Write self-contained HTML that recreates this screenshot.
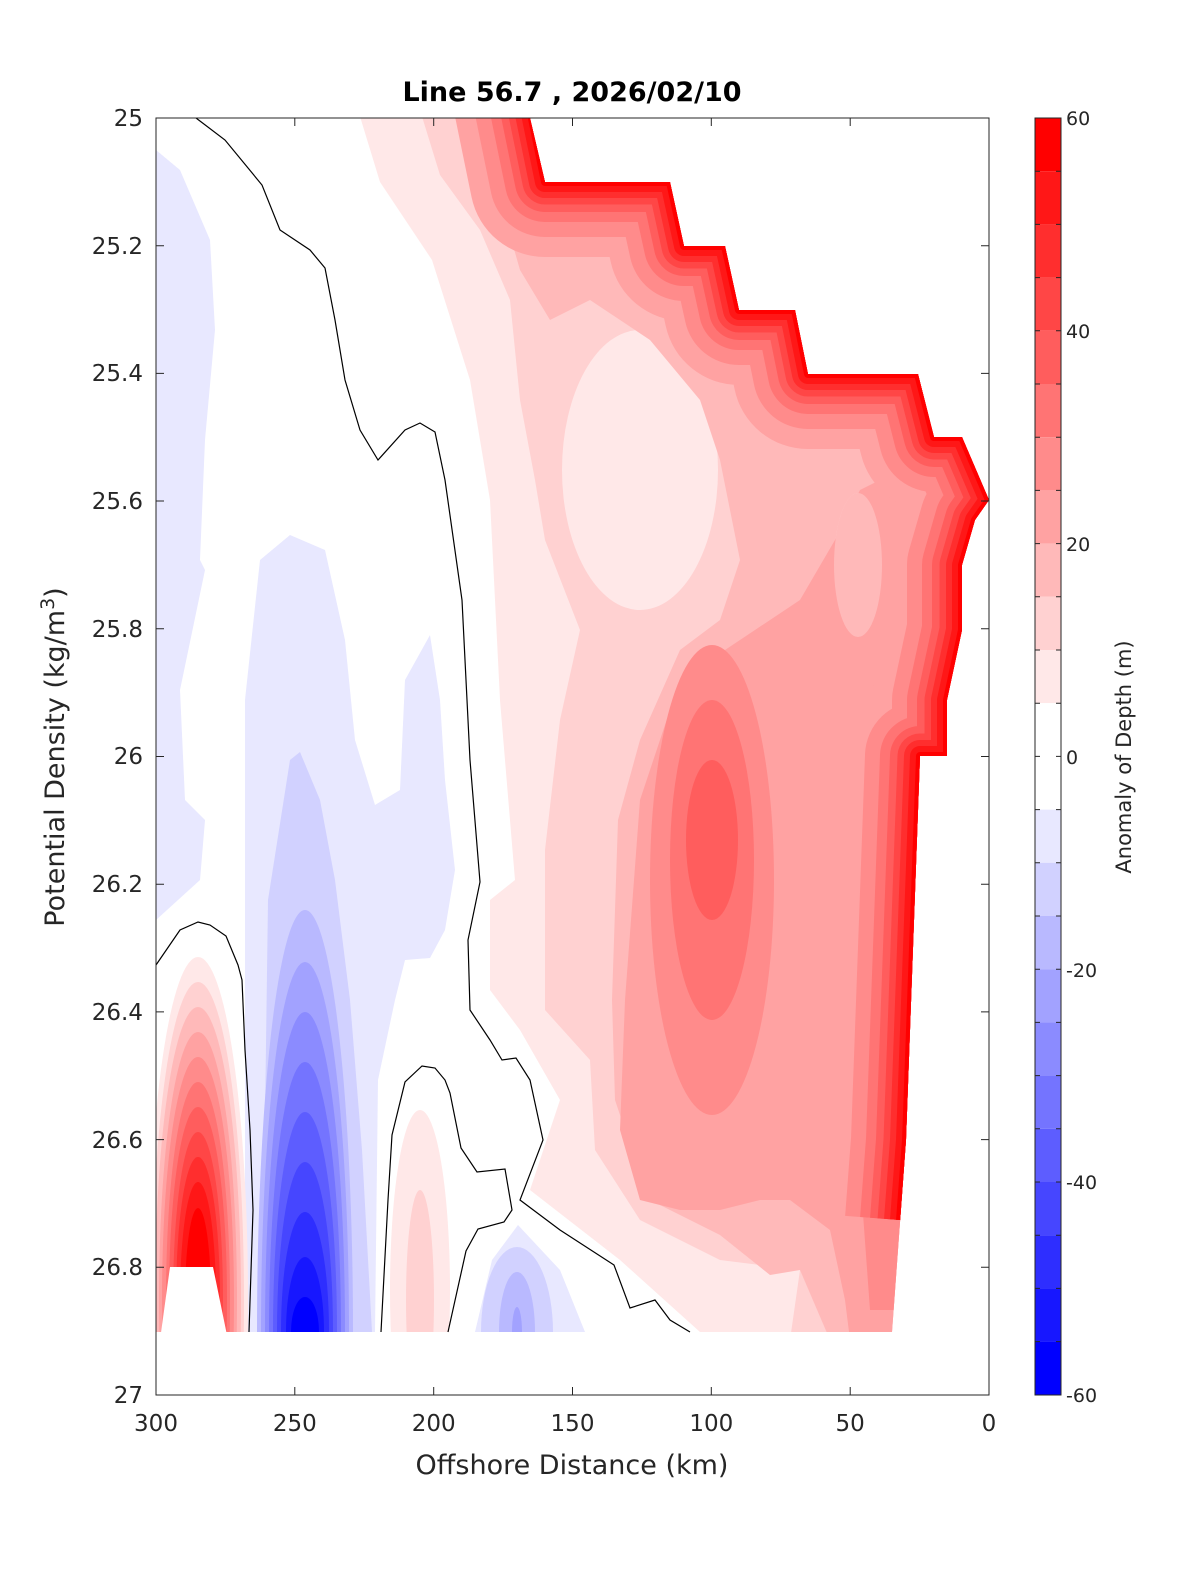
<!DOCTYPE html>
<html><head><meta charset="utf-8"><style>
html,body{margin:0;padding:0;background:#fff;overflow:hidden;width:1200px;height:1575px;}
svg{display:block;position:absolute;left:0;top:0;}
svg text{font-family:"DejaVu Sans","Liberation Sans",sans-serif;}
</style></head><body>
<svg width="1200" height="1575" viewBox="0 0 1200 1575" xmlns="http://www.w3.org/2000/svg">
<defs>
<clipPath id="data"><path d="M156,118 L530,118 L545,182 L670,182 L684,246 L725,246 L739,310 L795,310 L808,374 L918,374 L934,437 L962,437 L989,500 L975,520 L962,565 L962,630 L947,700 L947,756 L920,756 L906,1140 L892,1332 L156,1332 Z"/></clipPath>
<path id="S" d="M520,60 L545,182 L670,182 L684,246 L725,246 L739,310 L795,310 L808,374 L918,374 L934,437 L962,437 L989,500 L975,520 L962,565 L962,630 L947,700 L947,756 L920,756 L906,1140 L900,1220"/>
</defs>
<rect width="1200" height="1575" fill="#fff"/>
<g clip-path="url(#data)">
<path fill="#ffe8e8" d="M358,110 L380,182 L432,260 L470,380 L490,500 L500,700 L515,880 L490,900 L490,990 L520,1030 L560,1100 L530,1190 L620,1260 L700,1332 L1000,1340 L1000,110 Z"/>
<path fill="#ffd1d1" d="M420,110 L440,175 L480,230 L510,300 L520,400 L535,480 L545,540 L580,630 L560,720 L545,850 L545,1010 L590,1060 L595,1150 L640,1220 L720,1260 L800,1270 L790,1340 L1000,1340 L1000,110 Z"/>
<ellipse cx="640" cy="470" rx="78" ry="140" fill="#ffe8e8"/>
<path fill="#ffb9b9" d="M490,110 L500,200 L520,270 L550,320 L590,300 L650,340 L700,400 L720,460 L740,560 L720,620 L680,650 L640,740 L618,820 L612,1000 L615,1100 L640,1175 L660,1205 L720,1235 L770,1275 L800,1270 L830,1340 L1000,1340 L1000,110 Z"/>
<ellipse cx="858" cy="565" rx="24" ry="72" fill="#ffd1d1"/>
<path fill="#ffa2a2" d="M640,1200 L620,1130 L625,1000 L640,800 L680,680 L740,640 L800,600 L835,540 L860,490 L900,470 L1000,470 L1000,1340 L850,1340 L845,1300 L830,1230 L790,1200 L760,1200 L720,1210 L680,1210 Z"/>
<ellipse cx="858" cy="565" rx="24" ry="72" fill="#ffb9b9"/>
<ellipse cx="712" cy="880" rx="62" ry="235" fill="#ff8b8b"/>
<ellipse cx="712" cy="860" rx="42" ry="160" fill="#ff7474"/>
<ellipse cx="712" cy="840" rx="26" ry="80" fill="#ff5d5d"/>
<path fill="#ff8b8b" d="M860,1140 L906,1140 L895,1310 L870,1310 L862,1200 Z"/>
<g fill="none" stroke-linejoin="round">
<use href="#S" stroke="#ffa2a2" stroke-width="150"/>
<use href="#S" stroke="#ff8b8b" stroke-width="110"/>
<use href="#S" stroke="#ff7474" stroke-width="80"/>
<use href="#S" stroke="#ff5d5d" stroke-width="60"/>
<use href="#S" stroke="#ff4646" stroke-width="45"/>
<use href="#S" stroke="#ff2e2e" stroke-width="32"/>
<use href="#S" stroke="#ff1717" stroke-width="20"/>
<use href="#S" stroke="#ff0000" stroke-width="8"/>
</g>
<path fill="#e8e8ff" d="M156,150 L180,170 L210,240 L215,330 L205,440 L200,560 L205,570 L180,690 L185,800 L205,820 L200,880 L156,920 Z"/>
<path fill="#e8e8ff" d="M245,1332 L245,700 L260,560 L290,535 L325,550 L345,640 L355,740 L375,805 L400,790 L405,680 L430,635 L440,700 L445,780 L455,870 L445,930 L430,958 L405,960 L395,1000 L378,1080 L375,1332 Z"/>
<path fill="#d1d1ff" d="M262,1332 L268,900 L290,760 L300,752 L320,800 L335,880 L350,1000 L362,1150 L372,1332 Z"/>
<ellipse cx="305" cy="1332" rx="48" ry="422" fill="#b9b9ff"/>
<ellipse cx="305" cy="1332" rx="44" ry="370" fill="#a2a2ff"/>
<ellipse cx="305" cy="1332" rx="40" ry="320" fill="#8b8bff"/>
<ellipse cx="305" cy="1332" rx="36" ry="270" fill="#7474ff"/>
<ellipse cx="305" cy="1332" rx="32" ry="220" fill="#5d5dff"/>
<ellipse cx="305" cy="1332" rx="28" ry="170" fill="#4646ff"/>
<ellipse cx="305" cy="1332" rx="24" ry="120" fill="#2e2eff"/>
<ellipse cx="305" cy="1332" rx="19" ry="75" fill="#1717ff"/>
<ellipse cx="305" cy="1332" rx="14" ry="35" fill="#0000ff"/>
<ellipse cx="198" cy="1300" rx="50" ry="343" fill="#ffe8e8"/>
<ellipse cx="198" cy="1300" rx="46" ry="318" fill="#ffd1d1"/>
<ellipse cx="198" cy="1300" rx="43" ry="293" fill="#ffb9b9"/>
<ellipse cx="198" cy="1300" rx="39" ry="268" fill="#ffa2a2"/>
<ellipse cx="198" cy="1300" rx="36" ry="243" fill="#ff8b8b"/>
<ellipse cx="198" cy="1300" rx="32" ry="218" fill="#ff7474"/>
<ellipse cx="198" cy="1300" rx="29" ry="193" fill="#ff5d5d"/>
<ellipse cx="198" cy="1300" rx="25" ry="168" fill="#ff4646"/>
<ellipse cx="198" cy="1300" rx="22" ry="143" fill="#ff2e2e"/>
<ellipse cx="198" cy="1300" rx="18" ry="118" fill="#ff1717"/>
<ellipse cx="198" cy="1300" rx="13" ry="92" fill="#ff0000"/>
<path fill="#fff" d="M160,1340 L170,1267 L213,1267 L228,1340 Z"/>
<ellipse cx="420" cy="1290" rx="30" ry="180" fill="#ffe8e8"/>
<ellipse cx="420" cy="1300" rx="14" ry="110" fill="#ffd1d1"/>
<path fill="#e8e8ff" d="M475,1332 L492,1260 L518,1225 L560,1270 L585,1332 Z"/>
<ellipse cx="517" cy="1332" rx="36" ry="85" fill="#d1d1ff"/>
<ellipse cx="517" cy="1332" rx="18" ry="60" fill="#b9b9ff"/>
<ellipse cx="517" cy="1332" rx="5" ry="25" fill="#a2a2ff"/>
</g>
<g fill="none" stroke="#000" stroke-width="1.2">
<polyline points="196,118 225,140 262,185 280,230 310,250 325,268 335,320 345,380 360,430 378,460 405,430 420,423 435,432 445,480 462,600 470,760 480,882 468,940 470,1010 490,1040 502,1060 516,1058 530,1080 543,1140 520,1200 560,1230 614,1265 630,1308 655,1300 670,1320 690,1332"/>
<polyline points="156,965 180,930 198,922 210,925 226,936 238,965 242,980 245,1050 250,1130 253,1210 249,1332"/>
<polyline points="381,1332 388,1200 392,1135 405,1082 422,1066 435,1068 445,1080 450,1093 461,1148 477,1172 505,1169 512,1210 504,1222 478,1229 466,1251 448,1332"/>
</g>
<rect x="156" y="118" width="833" height="1277" fill="none" stroke="#262626" stroke-width="1"/>
<g stroke="#262626" stroke-width="1">
<path d="M156,245.7h8M156,373.4h8M156,501h8M156,628.8h8M156,756.5h8M156,884.2h8M156,1011.9h8M156,1139.6h8M156,1267.3h8"/>
<path d="M989,245.7h-8M989,373.4h-8M989,501h-8M989,628.8h-8M989,756.5h-8M989,884.2h-8M989,1011.9h-8M989,1139.6h-8M989,1267.3h-8"/>
<path d="M294.8,1395v-8M433.7,1395v-8M572.5,1395v-8M711.3,1395v-8M850.2,1395v-8M294.8,118v8M433.7,118v8M572.5,118v8M711.3,118v8M850.2,118v8"/>
</g>
<g font-size="23" fill="#262626" text-anchor="end">
<text x="143" y="126">25</text><text x="143" y="254">25.2</text><text x="143" y="381">25.4</text><text x="143" y="509">25.6</text><text x="143" y="637">25.8</text><text x="143" y="764">26</text><text x="143" y="892">26.2</text><text x="143" y="1020">26.4</text><text x="143" y="1148">26.6</text><text x="143" y="1275">26.8</text><text x="143" y="1403">27</text>
</g>
<g font-size="23" fill="#262626" text-anchor="middle">
<text x="156" y="1431">300</text><text x="294.8" y="1431">250</text><text x="433.7" y="1431">200</text><text x="572.5" y="1431">150</text><text x="711.3" y="1431">100</text><text x="850.2" y="1431">50</text><text x="989" y="1431">0</text>
<text x="572" y="1474" font-size="27">Offshore Distance (km)</text>
<text x="572" y="101" font-size="27" font-weight="bold" fill="#000">Line 56.7 , 2026/02/10</text>
</g>
<text transform="translate(64,757) rotate(-90)" text-anchor="middle" font-size="27" fill="#262626">Potential Density (kg/m<tspan dy="-10" font-size="19">3</tspan><tspan dy="10">)</tspan></text>
<g>
<rect x="1035" y="118" width="26" height="53.2" fill="#ff0000"/>
<rect x="1035" y="171.2" width="26" height="53.2" fill="#ff1717"/>
<rect x="1035" y="224.4" width="26" height="53.2" fill="#ff2e2e"/>
<rect x="1035" y="277.6" width="26" height="53.2" fill="#ff4646"/>
<rect x="1035" y="330.8" width="26" height="53.2" fill="#ff5d5d"/>
<rect x="1035" y="384" width="26" height="53.2" fill="#ff7474"/>
<rect x="1035" y="437.2" width="26" height="53.2" fill="#ff8b8b"/>
<rect x="1035" y="490.4" width="26" height="53.2" fill="#ffa2a2"/>
<rect x="1035" y="543.6" width="26" height="53.2" fill="#ffb9b9"/>
<rect x="1035" y="596.8" width="26" height="53.2" fill="#ffd1d1"/>
<rect x="1035" y="650" width="26" height="53.2" fill="#ffe8e8"/>
<rect x="1035" y="703.2" width="26" height="106.4" fill="#ffffff"/>
<rect x="1035" y="809.6" width="26" height="53.2" fill="#e8e8ff"/>
<rect x="1035" y="862.8" width="26" height="53.2" fill="#d1d1ff"/>
<rect x="1035" y="916" width="26" height="53.2" fill="#b9b9ff"/>
<rect x="1035" y="969.2" width="26" height="53.2" fill="#a2a2ff"/>
<rect x="1035" y="1022.4" width="26" height="53.2" fill="#8b8bff"/>
<rect x="1035" y="1075.6" width="26" height="53.2" fill="#7474ff"/>
<rect x="1035" y="1128.8" width="26" height="53.2" fill="#5d5dff"/>
<rect x="1035" y="1182" width="26" height="53.2" fill="#4646ff"/>
<rect x="1035" y="1235.2" width="26" height="53.2" fill="#2e2eff"/>
<rect x="1035" y="1288.4" width="26" height="53.2" fill="#1717ff"/>
<rect x="1035" y="1341.6" width="26" height="53.4" fill="#0000ff"/>
<rect x="1035" y="118" width="26" height="1277" fill="none" stroke="#262626" stroke-width="1"/>
<path stroke="#262626" d="M1035,171.2h5M1035,224.4h5M1035,277.6h5M1035,330.8h5M1035,384h5M1035,437.2h5M1035,490.4h5M1035,543.6h5M1035,596.8h5M1035,650h5M1035,703.2h5M1035,756.4h5M1035,809.6h5M1035,862.8h5M1035,916h5M1035,969.2h5M1035,1022.4h5M1035,1075.6h5M1035,1128.8h5M1035,1182h5M1035,1235.2h5M1035,1288.4h5M1035,1341.6h5
M1061,171.2h-5M1061,224.4h-5M1061,277.6h-5M1061,330.8h-5M1061,384h-5M1061,437.2h-5M1061,490.4h-5M1061,543.6h-5M1061,596.8h-5M1061,650h-5M1061,703.2h-5M1061,756.4h-5M1061,809.6h-5M1061,862.8h-5M1061,916h-5M1061,969.2h-5M1061,1022.4h-5M1061,1075.6h-5M1061,1128.8h-5M1061,1182h-5M1061,1235.2h-5M1061,1288.4h-5M1061,1341.6h-5"/>
<g font-size="19" fill="#262626">
<text x="1066" y="125">60</text><text x="1066" y="338">40</text><text x="1066" y="551">20</text><text x="1066" y="764">0</text><text x="1066" y="977">-20</text><text x="1066" y="1189">-40</text><text x="1066" y="1402">-60</text>
</g>
<text transform="translate(1131,757) rotate(-90)" text-anchor="middle" font-size="21" fill="#262626">Anomaly of Depth (m)</text>
</g>
</svg>
</body></html>
